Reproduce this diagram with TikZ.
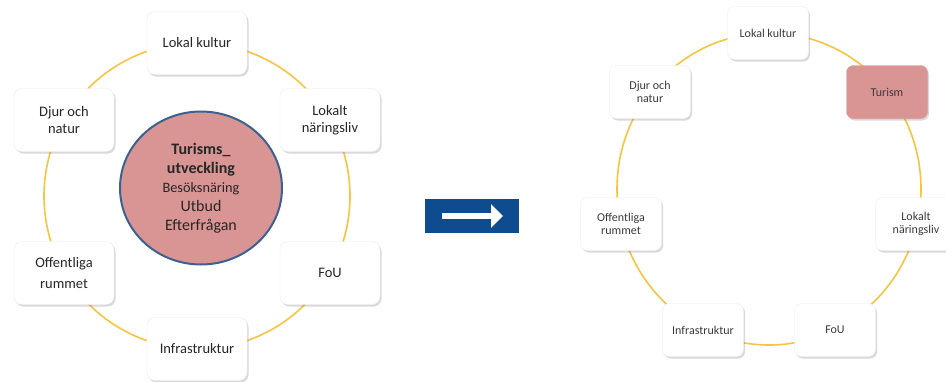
\documentclass[tikz,border=0pt]{standalone}
\usepackage{fontspec}
\setmainfont{Carlito}
\usetikzlibrary{shadows,arrows.meta,shapes.geometric}
\definecolor{ringc}{HTML}{F9C342}
\definecolor{pinkc}{HTML}{D99594}
\definecolor{bluec}{HTML}{3C6190}
\definecolor{arrowc}{HTML}{0E4C8F}
\definecolor{txt}{HTML}{262626}
\definecolor{txtr}{HTML}{3A3A3A}
\tikzset{
  ring/.style={draw=ringc, line width=1.6pt, fill=none},
  bigbox/.style={rectangle, rounded corners=8pt, fill=white, draw=black!8,
    minimum width=100pt, minimum height=63pt, align=center, text=txt,
    font=\fontsize{14.5}{17}\selectfont,
    drop shadow={opacity=0.3, shadow xshift=1.5pt, shadow yshift=-2pt}},
  smallbox/.style={rectangle, rounded corners=7pt, fill=white, draw=black!8,
    minimum width=81pt, minimum height=53pt, align=center, text=txtr,
    font=\fontsize{12}{13.5}\selectfont,
    drop shadow={opacity=0.3, shadow xshift=1.5pt, shadow yshift=-2pt}},
  hub/.style={ellipse, fill=pinkc, draw=bluec, line width=2pt,
    minimum width=162pt, minimum height=153pt, inner sep=0pt, align=center, text=txt,
    font=\fontsize{16}{19}\selectfont},
  arrowbox/.style={rectangle, fill=arrowc, minimum width=94pt, minimum height=34pt}
}
\begin{document}
\begin{tikzpicture}[x=1pt,y=-1pt]
\useasboundingbox (0,0) rectangle (946,381);
% left ring
\node[circle, ring, minimum size=306pt, inner sep=0pt] (ringL) at (197,196) {};
\node[bigbox] (lk) at (197,43) {Lokal kultur};
\node[bigbox] (dn) at (64,120) {Djur och\\natur};
\node[bigbox] (ln) at (330,120) {Lokalt\\näringsliv};
\node[bigbox, font=\fontsize{14.5}{21}\selectfont] (or) at (64,273) {Offentliga\\rummet};
\node[bigbox] (fou) at (330,273) {FoU};
\node[bigbox] (inf) at (197,349) {Infrastruktur};
\node[hub] (hub) at (201,188) {%
  \textbf{Turisms\_}\\
  \textbf{utveckling}\\
  {\fontsize{14.3}{17}\selectfont Besöksnäring}\\
  Utbud\\
  Efterfrågan};
% arrow
\node[arrowbox] (arr) at (472,216) {};
\draw[white, line width=5.5pt, -{Triangle[length=12pt,width=23pt]}]
  ([xshift=-30pt]arr.center) -- ([xshift=31pt]arr.center);
% right ring
\node[ellipse, ring, minimum width=304pt, minimum height=312pt, inner sep=0pt] (ringR) at (769,189) {};
\node[smallbox] (rlk) at (768,33) {Lokal kultur};
\node[smallbox, fill=pinkc, draw=pinkc] (rtu) at (887,92) {Turism};
\node[smallbox] (rln) at (916,224) {Lokalt\\näringsliv};
\node[smallbox] (rfou) at (835,330) {FoU};
\node[smallbox] (rinf) at (703,330) {Infrastruktur};
\node[smallbox] (ror) at (621,224) {Offentliga\\rummet};
\node[smallbox] (rdn) at (650,92) {Djur och\\natur};
\end{tikzpicture}
\end{document}
